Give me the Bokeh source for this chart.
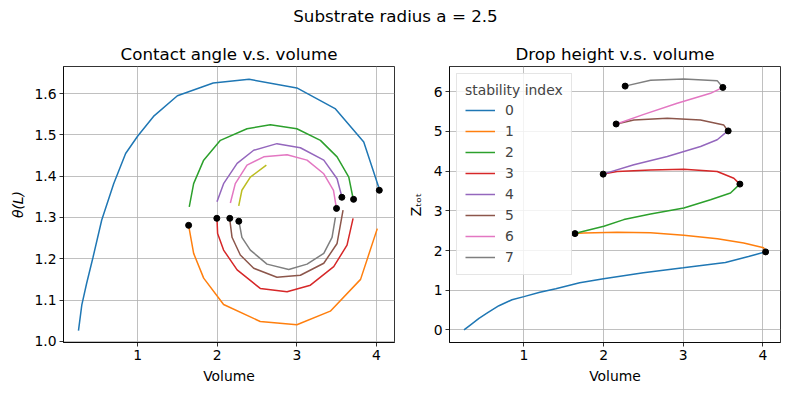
from bokeh.plotting import figure
from bokeh.layouts import column, row
from bokeh.models import FixedTicker, PrintfTickFormatter, Label, Range1d
from bokeh.embed import file_html
from bokeh.resources import INLINE

# ---------------- data ----------------
suptitle = "Substrate radius a = 2.5"
branch_labels = ["0", "1", "2", "3", "4", "5", "6", "7", "8"]
colors = ["#1f77b4", "#ff7f0e", "#2ca02c", "#d62728", "#9467bd",
          "#8c564b", "#e377c2", "#7f7f7f", "#bcbd22"]

# contact angle vs volume (left panel), one list per stability branch
ca_volume = [
    [0.258, 0.30, 0.36, 0.44, 0.55, 0.70, 0.85, 1.0, 1.2, 1.5, 1.95, 2.4, 3.0, 3.48, 3.84, 4.04],
    [1.641, 1.704, 1.83, 2.08, 2.54, 3.0, 3.42, 3.80, 4.01],
    [1.649, 1.704, 1.83, 2.04, 2.374, 2.667, 3.0, 3.296, 3.505, 3.652, 3.706],
    [1.997, 2.005, 2.08, 2.25, 2.54, 2.877, 3.17, 3.463, 3.63, 3.706],
    [1.997, 2.08, 2.25, 2.458, 2.75, 3.044, 3.338, 3.505, 3.568],
    [2.156, 2.186, 2.29, 2.458, 2.75, 3.044, 3.338, 3.505, 3.58],
    [2.165, 2.227, 2.374, 2.584, 2.877, 3.128, 3.338, 3.46, 3.497],
    [2.274, 2.31, 2.416, 2.625, 2.898, 3.128, 3.338, 3.442, 3.484],
    [2.27, 2.31, 2.416, 2.617],
]
contact_angle = [
    [1.026, 1.088, 1.14, 1.203, 1.294, 1.382, 1.455, 1.497, 1.545, 1.595, 1.626, 1.635, 1.614, 1.564, 1.483, 1.366],
    [1.281, 1.213, 1.153, 1.089, 1.048, 1.040, 1.073, 1.15, 1.273],
    [1.326, 1.382, 1.439, 1.487, 1.515, 1.525, 1.515, 1.487, 1.447, 1.398, 1.346],
    [1.298, 1.261, 1.221, 1.173, 1.128, 1.12, 1.136, 1.181, 1.233, 1.298],
    [1.338, 1.382, 1.431, 1.463, 1.479, 1.469, 1.439, 1.394, 1.348],
    [1.298, 1.252, 1.209, 1.177, 1.155, 1.160, 1.189, 1.237, 1.318],
    [1.335, 1.382, 1.427, 1.447, 1.452, 1.439, 1.406, 1.366, 1.322],
    [1.290, 1.252, 1.221, 1.187, 1.174, 1.187, 1.213, 1.252, 1.300],
    [1.328, 1.366, 1.398, 1.427],
]

# drop height vs volume (right panel)
h_volume = [
    [0.247, 0.33, 0.435, 0.55, 0.686, 0.85, 1.0, 1.2, 1.4, 1.7, 2.0, 2.5, 3.0, 3.53, 3.82, 4.033],
    [4.033, 4.01, 3.76, 3.43, 3.008, 2.59, 2.17, 1.753, 1.636],
    [1.636, 2.004, 2.255, 2.59, 3.008, 3.343, 3.594, 3.711],
    [3.711, 3.636, 3.427, 3.008, 2.59, 2.17, 1.992],
    [1.992, 2.38, 2.8, 3.218, 3.427, 3.561],
    [3.561, 3.51, 3.218, 2.8, 2.38, 2.163],
    [2.163, 2.506, 2.925, 3.343, 3.498],
    [3.498, 3.427, 3.008, 2.59, 2.268],
]
drop_height = [
    [0.0, 0.13, 0.29, 0.44, 0.61, 0.76, 0.84, 0.95, 1.04, 1.19, 1.29, 1.44, 1.565, 1.70, 1.85, 1.966],
    [1.966, 2.07, 2.19, 2.30, 2.385, 2.45, 2.46, 2.44, 2.427],
    [2.427, 2.61, 2.78, 2.92, 3.07, 3.28, 3.45, 3.674],
    [3.674, 3.82, 3.99, 4.05, 4.03, 3.99, 3.925],
    [3.925, 4.16, 4.37, 4.62, 4.79, 5.013],
    [5.013, 5.16, 5.29, 5.33, 5.29, 5.188],
    [5.188, 5.43, 5.71, 5.96, 6.109],
    [6.109, 6.28, 6.32, 6.29, 6.142],
]

# fold (turning) points
fold_volume = [4.035, 1.641, 3.712, 1.995, 3.565, 2.158, 3.498, 2.271]
fold_angle = [1.366, 1.281, 1.344, 1.298, 1.349, 1.298, 1.322, 1.291]
fold_height = [1.966, 2.427, 3.674, 3.925, 5.013, 5.188, 6.109, 6.142]

x_ticks = [1, 2, 3, 4]
angle_ticks = [1.0, 1.1, 1.2, 1.3, 1.4, 1.5, 1.6]
height_ticks = [0, 1, 2, 3, 4, 5, 6]

# ---------------- style ----------------
FONT = "DejaVu Sans"
TICK_FS = "13.9px"
TITLE_FS = "16.7px"


def style(p, yticks, yfmt):
    p.title.text_font = FONT
    p.title.text_font_size = TITLE_FS
    p.title.text_font_style = "normal"
    p.title.text_color = "black"
    p.title.align = "center"
    p.title.standoff = 6
    p.xaxis.ticker = FixedTicker(ticks=x_ticks)
    p.yaxis.ticker = FixedTicker(ticks=yticks)
    p.yaxis.formatter = PrintfTickFormatter(format=yfmt)
    for ax in p.axis:
        ax.major_label_text_font = FONT
        ax.major_label_text_font_size = TICK_FS
        ax.major_label_text_color = "black"
        ax.axis_label_text_font = FONT
        ax.axis_label_text_font_size = TICK_FS
        ax.axis_label_text_color = "black"
        ax.minor_tick_line_color = None
        ax.major_tick_in = 0
        ax.major_tick_out = 4
        ax.major_tick_line_width = 0.8
        ax.major_tick_line_color = "black"
        ax.axis_line_color = "black"
        ax.axis_line_width = 0.8
        ax.major_label_standoff = 3
    p.xaxis.axis_label_standoff = 5
    p.grid.grid_line_color = "#b0b0b0"
    p.grid.grid_line_width = 0.8
    p.outline_line_color = "black"
    p.outline_line_width = 0.8
    p.outline_line_alpha = 1.0


# suptitle strip
t = figure(width=790, height=38, toolbar_location=None, output_backend="svg",
           min_border=0, x_range=(0, 1), y_range=(0, 1))
t.axis.visible = False
t.grid.visible = False
t.outline_line_color = None
t.add_layout(Label(x=395, y=23, x_units="screen", y_units="screen", text=suptitle,
                   text_align="center", text_baseline="middle",
                   text_font=FONT, text_font_size=TITLE_FS, text_color="black"))

# left panel
p1 = figure(width=404, height=358, toolbar_location=None, output_backend="svg",
            title="Contact angle v.s. volume",
            x_range=Range1d(0.07, 4.226), y_range=Range1d(0.997, 1.666),
            min_border_left=63, min_border_right=10, min_border_top=28, min_border_bottom=54)
style(p1, angle_ticks, "%.1f")
p1.xaxis.axis_label = "Volume"
p1.yaxis.axis_label = "θ(L)"
p1.yaxis.axis_label_text_font_style = "italic"
p1.xaxis.axis_label_text_font_style = "normal"
p1.yaxis.axis_label_standoff = 5
for i in range(len(ca_volume)):
    p1.line(ca_volume[i], contact_angle[i], line_color=colors[i], line_width=1.5)
p1.scatter(fold_volume, fold_angle, size=6, color="black")

# right panel
p2 = figure(width=386, height=358, toolbar_location=None, output_backend="svg",
            title="Drop height v.s. volume",
            x_range=Range1d(0.065, 4.222), y_range=Range1d(-0.316, 6.636),
            min_border_left=45, min_border_right=10, min_border_top=28, min_border_bottom=54)
style(p2, height_ticks, "%d")
p2.xaxis.axis_label = "Volume"
p2.yaxis.axis_label = "Z\u209c\u2092\u209c"
p2.axis.axis_label_text_font_style = "normal"
p2.yaxis.axis_label_standoff = 7
for i in range(len(h_volume)):
    p2.line(h_volume[i], drop_height[i], line_color=colors[i], line_width=1.5,
            legend_label=branch_labels[i])
p2.scatter(fold_volume, fold_height, size=6, color="black")

lg = p2.legend[0]
lg.location = "top_left"
lg.title = "stability index"
lg.title_text_font = FONT
lg.title_text_font_size = TICK_FS
lg.title_text_font_style = "normal"
lg.title_standoff = 3
lg.label_text_font = FONT
lg.label_text_font_size = TICK_FS
lg.label_height = 18
lg.glyph_height = 18
lg.glyph_width = 30
lg.spacing = 3
lg.label_standoff = 10
lg.padding = 8
lg.margin = 7
lg.border_line_color = "#cccccc"
lg.border_line_width = 1
lg.background_fill_alpha = 0.8

layout = column(t, row(p1, p2, spacing=0), spacing=0)
open("out.html", "w").write(file_html(layout, INLINE))
